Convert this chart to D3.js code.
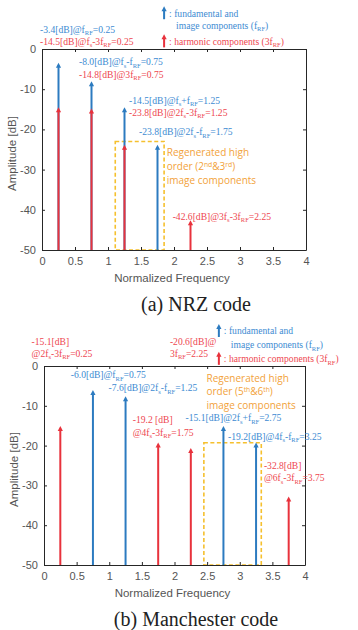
<!DOCTYPE html>
<html>
<head>
<meta charset="utf-8">
<script src="https://cdn.jsdelivr.net/npm/d3@7"></script>
<style>
  body { margin: 0; background: #fff; }
  svg { display: block; }
</style>
</head>
<body>
<svg id="chart" width="358" height="630"></svg>
<script>
// ---- data ----
const xTicks = [0, 0.5, 1, 1.5, 2, 2.5, 3, 3.5, 4];
const yTicks = [0, -10, -20, -30, -40, -50];

const nrzBlueFreq = [0.25, 0.75, 1.25, 1.75];
const nrzBlueAmp = [-3.4, -8.0, -14.5, -23.8];
const nrzRedFreq = [0.25, 0.75, 1.25, 2.25];
const nrzRedAmp = [-14.5, -14.8, -23.8, -42.6];

const manBlueFreq = [0.75, 1.25, 2.75, 3.25];
const manBlueAmp = [-6.0, -7.6, -15.1, -19.2];
const manRedFreq = [0.25, 1.75, 2.25, 3.75];
const manRedAmp = [-15.1, -19.2, -20.6, -32.8];

// annotation texts: [text, colour key, x (freq), y (dB)]
const nrzNotes = [
  ['-3.4[dB]@f_{RF}=0.25', 'b', -0.03, 4.1],
  ['-14.5[dB]@f_{s}-3f_{RF}=0.25', 'r', -0.03, 1.1],
  ['-8.0[dB]@f_{s}-f_{RF}=0.75', 'b', 0.56, -4.1],
  ['-14.8[dB]@3f_{RF}=0.75', 'r', 0.56, -7.1],
  ['-14.5[dB]@f_{s}+f_{RF}=1.25', 'b', 1.32, -13.6],
  ['-23.8[dB]@2f_{s}-3f_{RF}=1.25', 'r', 1.32, -16.7],
  ['-23.8[dB]@2f_{s}-f_{RF}=1.75', 'b', 1.47, -21.5],
  ['-42.6[dB]@3f_{s}-3f_{RF}=2.25', 'r', 1.98, -42.5]
];
const manNotes = [
  ['-15.1[dB]', 'r', -0.19, 5.3],
  ['@2f_{s}-3f_{RF}=0.25', 'r', -0.19, 2.3],
  ['-20.6[dB]@', 'r', 1.93, 5.3],
  ['3f_{RF}=2.25', 'r', 1.93, 2.3],
  ['-6.0[dB]@f_{RF}=0.75', 'b', 0.41, -3.1],
  ['-7.6[dB]@2f_{s}-f_{RF}=1.25', 'b', 0.99, -6.4],
  ['-19.2 [dB]', 'r', 1.36, -14.2],
  ['@4f_{s}-3f_{RF}=1.75', 'r', 1.36, -17.5],
  ['-15.1[dB]@2f_{s}+f_{RF}=2.75', 'b', 2.17, -13.9],
  ['-19.2[dB]@4f_{s}-f_{RF}=3.25', 'b', 2.82, -18.5],
  ['-32.8[dB]', 'r', 3.37, -26.0],
  ['@6f_{s}-3f_{RF}=3.75', 'r', 3.37, -29.0]
];

const legendLines = [': fundamental and', 'image components (f_{RF})', ': harmonic components (3f_{RF})'];
const nrzRegen = ['Regenerated high', 'order (2^{nd}&3^{rd})', 'image components'];
const manRegen = ['Regenerated high', 'order (5^{th}&6^{th})', 'image components'];

const C = {
  b: '#2c7bc0', r: '#e8323c', bt: '#3d8bd2', rt: '#ee4750',
  axis: '#262626', tick: '#555', orange: '#f2a23a', box: '#f5c02e'
};

const svg = d3.select('#chart');

function richText(sel, str) {
  // split "a_{b}c^{d}" into tspans
  const re = /([_^])\{([^}]*)\}/g;
  let last = 0, m;
  const parts = [];
  while ((m = re.exec(str)) !== null) {
    if (m.index > last) parts.push([str.slice(last, m.index), '']);
    parts.push([m[2], m[1]]);
    last = re.lastIndex;
  }
  if (last < str.length) parts.push([str.slice(last), '']);
  let shift = 0;
  parts.forEach(([t, kind]) => {
    const ts = sel.append('tspan').text(t);
    const target = kind === '_' ? 2.3 : kind === '^' ? -3.5 : 0;
    ts.attr('dy', target - shift);
    if (kind) ts.style('font-size', '0.68em');
    shift = target;
  });
}

function arrow(g, x, yTip, yBase, color) {
  g.append('line')
    .attr('x1', x).attr('x2', x)
    .attr('y1', yBase).attr('y2', yTip + 4)
    .attr('stroke', color).attr('stroke-width', 2);
  g.append('path')
    .attr('d', `M${x - 2.6},${yTip + 5} L${x},${yTip} L${x + 2.6},${yTip + 5} Z`)
    .attr('fill', color);
}

function panel(cfg) {
  const x = d3.scaleLinear().domain([0, 4]).range([cfg.left, cfg.right]);
  const y = d3.scaleLinear().domain([-50, 0]).range([cfg.bottom, cfg.top]);
  const g = svg.append('g');

  // regenerated box
  g.append('rect')
    .attr('x', x(cfg.boxX[0])).attr('y', y(cfg.boxTop))
    .attr('width', x(cfg.boxX[1]) - x(cfg.boxX[0]))
    .attr('height', y(-50) - y(cfg.boxTop))
    .attr('fill', 'none').attr('stroke', C.box)
    .attr('stroke-width', 1.6).attr('stroke-dasharray', '4,2.5');

  // stems
  cfg.blueF.forEach((f, i) => arrow(g, x(f), y(cfg.blueA[i]), y(-50), C.b));
  cfg.redF.forEach((f, i) => arrow(g, x(f), y(cfg.redA[i]), y(-50), C.r));

  // axes
  const axB = g.append('g').attr('transform', `translate(0,${cfg.bottom})`)
    .call(d3.axisBottom(x).tickValues(xTicks).tickFormat(d => String(d))
      .tickSizeInner(-3).tickSizeOuter(0).tickPadding(7));
  const axT = g.append('g').attr('transform', `translate(0,${cfg.top})`)
    .call(d3.axisTop(x).tickValues(xTicks).tickSizeInner(-3).tickSizeOuter(0).tickFormat(''));
  const axL = g.append('g').attr('transform', `translate(${cfg.left},0)`)
    .call(d3.axisLeft(y).tickValues(yTicks).tickFormat(d => String(d))
      .tickSizeInner(-3).tickSizeOuter(0).tickPadding(6));
  const axR = g.append('g').attr('transform', `translate(${cfg.right},0)`)
    .call(d3.axisRight(y).tickValues(yTicks).tickSizeInner(-3).tickSizeOuter(0).tickFormat(''));
  [axB, axT, axL, axR].forEach(a => {
    a.select('.domain').attr('stroke', C.axis).attr('stroke-width', 1);
    a.selectAll('.tick line').attr('stroke', C.axis);
    a.selectAll('.tick text').attr('fill', C.tick)
      .style('font-family', '"Liberation Sans", Arial, sans-serif').style('font-size', '11px');
  });

  g.append('text')
    .attr('x', (cfg.left + cfg.right) / 2 - 2).attr('y', cfg.bottom + 32)
    .attr('text-anchor', 'middle').attr('fill', C.tick)
    .style('font-family', '"Liberation Sans", Arial, sans-serif').style('font-size', '11.5px')
    .text('Normalized Frequency');
  g.append('text')
    .attr('transform', `translate(${cfg.left - 26},${(cfg.top + cfg.bottom) / 2 + 4}) rotate(-90)`)
    .attr('text-anchor', 'middle').attr('fill', C.tick)
    .style('font-family', '"Liberation Sans", Arial, sans-serif').style('font-size', '11.5px')
    .text('Amplitude [dB]');

  // annotations
  cfg.notes.forEach(([t, c, fx, dy]) => {
    const tx = g.append('text').attr('x', x(fx)).attr('y', y(dy))
      .attr('fill', c === 'b' ? C.bt : C.rt)
      .style('font-family', '"Liberation Serif", "Times New Roman", serif').style('font-size', '9.6px');
    richText(tx, t);
  });

  // legend
  const lg = cfg.legend;
  arrow(g, x(lg.x), y(lg.y[0]) - 7, y(lg.y[0]) + 6, C.b);
  arrow(g, x(lg.x), y(lg.y[2]) - 7, y(lg.y[2]) + 6, C.r);
  legendLines.forEach((t, i) => {
    const tx = g.append('text')
      .attr('x', x(lg.x) + (i === 1 ? 12 : 5)).attr('y', y(lg.y[i]) + 3.5)
      .attr('fill', i === 2 ? C.rt : C.bt)
      .style('font-family', '"Liberation Serif", "Times New Roman", serif').style('font-size', '9.6px');
    richText(tx, t);
  });

  // regenerated text
  cfg.regen.forEach((t, i) => {
    const tx = g.append('text').attr('x', x(cfg.regenX)).attr('y', y(cfg.regenY[i]))
      .attr('fill', C.orange)
      .style('font-family', '"Open Sans", sans-serif').style('font-size', '10px');
    richText(tx, t);
  });

  svg.append('text')
    .attr('x', 196).attr('y', cfg.bottom + 61)
    .attr('text-anchor', 'middle').attr('fill', '#222')
    .style('font-family', '"Liberation Serif", "Times New Roman", serif').style('font-size', '20px')
    .text(cfg.caption);
}

panel({
  left: 42, right: 306, top: 49, bottom: 250,
  blueF: nrzBlueFreq, blueA: nrzBlueAmp, redF: nrzRedFreq, redA: nrzRedAmp,
  boxX: [1.11, 1.85], boxTop: -23.0,
  notes: nrzNotes,
  legend: { x: 1.85, y: [8.9, 5.9, 1.9] },
  regen: nrzRegen, regenX: 1.89, regenY: [-26.6, -30.1, -33.5],
  caption: '(a) NRZ code'
});

panel({
  left: 44, right: 305, top: 366, bottom: 565,
  blueF: manBlueFreq, blueA: manBlueAmp, redF: manRedFreq, redA: manRedAmp,
  boxX: [2.45, 3.33], boxTop: -19.3,
  notes: manNotes,
  legend: { x: 2.68, y: [8.8, 5.3, 1.8] },
  regen: manRegen, regenX: 2.49, regenY: [-3.9, -7.4, -10.7],
  caption: '(b) Manchester code'
});
</script>
</body>
</html>
